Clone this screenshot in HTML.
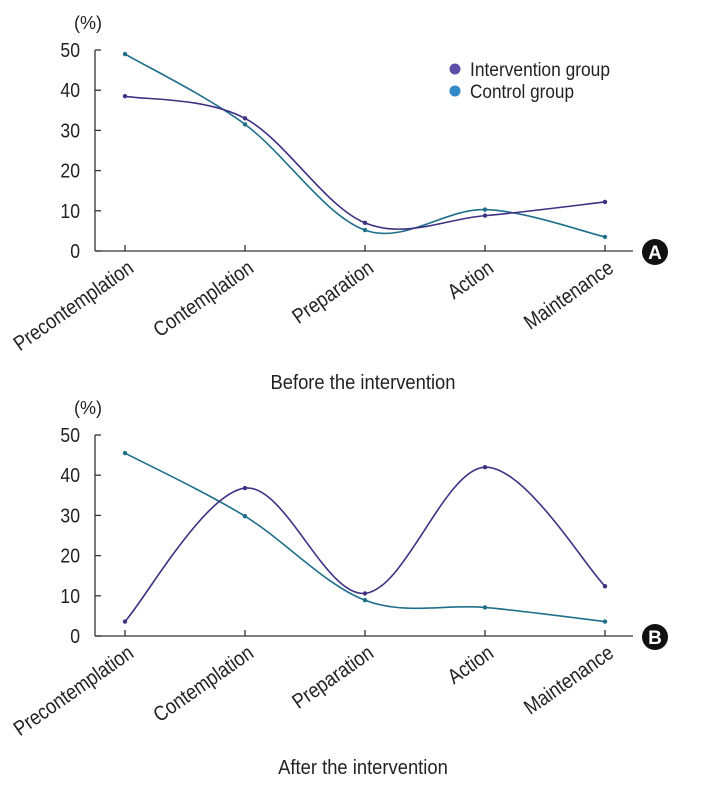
<!DOCTYPE html>
<html><head><meta charset="utf-8">
<style>
body{margin:0;background:#fff;}
svg text{font-family:"Liberation Sans Narrow","Liberation Sans",sans-serif;fill:#222;}
</style></head>
<body>
<svg id="c" width="703" height="790" xmlns="http://www.w3.org/2000/svg"></svg>
<script>
const categories=["Precontemplation","Contemplation","Preparation","Action","Maintenance"];
const yTicks=[0,10,20,30,40,50];
const beforeIntervention=[38.5,33,7,8.8,12.2];
const beforeControl=[49,31.5,5.2,10.3,3.5];
const afterIntervention=[3.6,36.8,10.6,42,12.4];
const afterControl=[45.5,29.8,8.9,7.1,3.6];
const NS="http://www.w3.org/2000/svg";
const svg=document.getElementById('c');
function mk(t,a,p){const e=document.createElementNS(NS,t);for(const k in a)e.setAttribute(k,a[k]);(p||svg).appendChild(e);return e;}
function xPos(i){return 125+i*120;}
function spline(pts){let d="M"+pts[0][0]+","+pts[0][1];const t=0.5;
for(let i=0;i<pts.length-1;i++){const p0=pts[i-1]||pts[i],p1=pts[i],p2=pts[i+1],p3=pts[i+2]||p2;
const c1=[p1[0]+(p2[0]-p0[0])*t/3,p1[1]+(p2[1]-p0[1])*t/3],c2=[p2[0]-(p3[0]-p1[0])*t/3,p2[1]-(p3[1]-p1[1])*t/3];
d+=` C${c1[0]},${c1[1]} ${c2[0]},${c2[1]} ${p2[0]},${p2[1]}`;}return d;}
function panel(y0,name,letter,caption,sI,sC,legend){
 const g=mk('g',{});
 
 
 const yS=v=>y0-v*4.02;
 const ax=mk('line',{x1:95,y1:y0,x2:633,y2:y0,stroke:'#333','stroke-width':1.3},g);
 
 const ay=mk('line',{x1:95,y1:yS(50),x2:95,y2:y0,stroke:'#333','stroke-width':1.3},g);
 
 yTicks.forEach(v=>{mk('line',{x1:95,y1:yS(v),x2:101,y2:yS(v),stroke:'#333','stroke-width':1.3},g);
  const t=mk('text',{x:80,y:yS(v)+7,'font-size':20,'text-anchor':'end',transform:`translate(80 0) scale(0.88 1) translate(-80 0)`},g);t.textContent=v;
  });
 const u=mk('text',{x:88,y:yS(50)-21,'font-size':18,'text-anchor':'middle'},g);u.textContent='(%)';
 
 categories.forEach((c,i)=>{const x=xPos(i);mk('line',{x1:x,y1:y0,x2:x,y2:y0-6,stroke:'#333','stroke-width':1.3},g);
  const t=mk('text',{x:x+10,y:y0+20,'font-size':21,'text-anchor':'end',transform:`rotate(-35 ${x+10} ${y0+20}) translate(${x+10} 0) scale(0.86 1) translate(${-(x+10)} 0)`},g);t.textContent=c;
  });
 [[sC,'#1f6f8b','control-line'],[sI,'#3e3183','intervention-line']].forEach(([s,col,n])=>{
  const pts=s.map((v,i)=>[xPos(i),yS(v)]);
  const p=mk('path',{d:spline(pts),fill:'none',stroke:col,'stroke-width':1.6},g);
  
  pts.forEach(q=>{const c=mk('circle',{cx:q[0],cy:q[1],r:2.2,fill:col},g);
   });});
 const cc=mk('circle',{cx:655,cy:y0+1,r:13,fill:'#111'},g);
 
 const lt=mk('text',{x:655,y:y0+8,'font-size':19,'font-weight':'bold','text-anchor':'middle',style:'fill:#fff'},g);lt.textContent=letter;
 const cap=mk('text',{x:363,y:y0+138,'font-size':20,'text-anchor':'middle',transform:`translate(363 0) scale(0.92 1) translate(-363 0)`},g);cap.textContent=caption;
 
 if(legend){[['Intervention group','#5b4ea8',69,140],['Control group','#3189c8',91,104]].forEach(([l,col,y,w])=>{
  const c=mk('circle',{cx:455,cy:y,r:5.5,fill:col},g);
  const t=mk('text',{x:470,y:y+7,'font-size':19,textLength:w,lengthAdjust:'spacingAndGlyphs'},g);t.textContent=l;});}
}
panel(251,'panel-a','A','Before the intervention',beforeIntervention,beforeControl,true);
panel(636,'panel-b','B','After the intervention',afterIntervention,afterControl,false);
</script>
</body></html>
